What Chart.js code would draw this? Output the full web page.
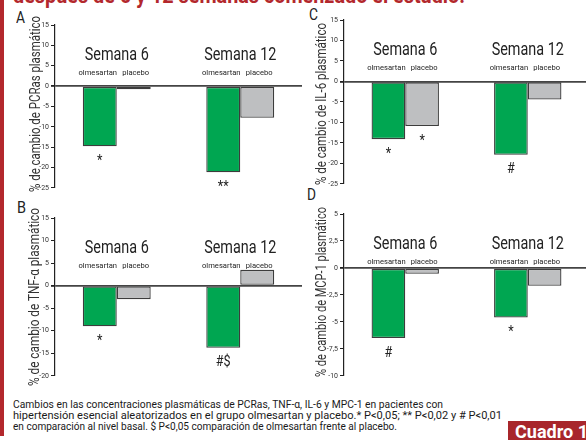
<!DOCTYPE html>
<html>
<head>
<meta charset="utf-8">
<script src="https://cdn.jsdelivr.net/npm/chart.js@4.4.1/dist/chart.umd.min.js"></script>
<style>
  html, body { margin: 0; padding: 0; background: #fff; overflow: hidden; }
  body { width: 586px; height: 440px; position: relative; font-family: Roboto, "Liberation Sans", sans-serif; }
  canvas { position: absolute; }
  .redbar { position: absolute; left: 0; top: 0; width: 4px; height: 436px; background: #b3282d; }
  .fit { position: absolute; white-space: nowrap; transform-origin: 0 0; }
  .title { left: 13px; top: -17px; color: #b3282d; font-weight: bold; font-size: 22px; }
  .letter { font-size: 17px; font-weight: 400; color: #222; }
  .ytitle { font-size: 14px; color: #333; transform-origin: 50% 50%; }
  .cap { left: 13px; font-size: 11.5px; color: #1a1a1a; }
  .cuadro { position: absolute; left: 508px; top: 421px; width: 90px; height: 22px; background: #a8262b; }
  .cuadro span { position: absolute; left: 7px; top: 0; color: #fff; font-weight: bold; font-size: 19px;
                 line-height: 22px; white-space: nowrap; transform: scaleX(0.95); transform-origin: 0 0; }
</style>
</head>
<body>
<div class="redbar"></div>
<div class="fit title" data-w="452">después de 6 y 12 semanas comenzado el estudio.</div>

<div class="fit letter" data-w="9" style="left:16px;top:7px;">A</div>
<div class="fit letter" data-w="9" style="left:309px;top:4px;">C</div>
<div class="fit letter" data-w="9" style="left:17px;top:197px;">B</div>
<div class="fit letter" data-w="9" style="left:307px;top:184px;">D</div>

<canvas id="chartA" width="276" height="194" style="left:26px;top:0px;"></canvas>
<canvas id="chartC" width="276" height="190" style="left:313px;top:0px;"></canvas>
<canvas id="chartB" width="276" height="186" style="left:26px;top:196px;"></canvas>
<canvas id="chartD" width="276" height="186" style="left:313px;top:196px;"></canvas>

<div class="ytitle rot" data-w="176" data-cx="35" data-cy="104">% de cambio de PCRas plasmático</div>
<div class="ytitle rot" data-w="162" data-cx="321" data-cy="104">% de cambio de IL-6 plasmático</div>
<div class="ytitle rot" data-w="178" data-cx="34" data-cy="297">% de cambio de TNF-α plasmático</div>
<div class="ytitle rot" data-w="170" data-cx="321" data-cy="292">% de cambio de MCP-1 plasmático</div>

<div class="fit cap" data-w="430" style="top:397px;">Cambios en las concentraciones plasmáticas de PCRas, TNF-α, IL-6 y MPC-1 en pacientes con</div>
<div class="fit cap" data-w="489" style="top:408px;">hipertensión esencial aleatorizados en el grupo olmesartan y placebo.* P&lt;0,05; ** P&lt;0,02 y # P&lt;0,01</div>
<div class="fit cap" data-w="384" style="top:419px;">en comparación al nivel basal. $ P&lt;0,05 comparación de olmesartan frente al placebo.</div>
<div class="cuadro"><span>Cuadro 1</span></div>

<script>
// datos
const categories = ['Semana 6', 'Semana 12'];
const seriesNames = ['olmesartan', 'placebo'];

const pcrOlmesartan = [-14.8, -21.2];
const pcrPlacebo = [-0.8, -7.8];
const pcrOlmMarks = ['*', '**'];
const pcrPlaMarks = ['', ''];

const tnfOlmesartan = [-9.0, -13.8];
const tnfPlacebo = [-3.0, 3.5];
const tnfOlmMarks = ['*', '#$'];
const tnfPlaMarks = ['', ''];

const il6Olmesartan = [-14.1, -17.9];
const il6Placebo = [-10.9, -4.4];
const il6OlmMarks = ['*', '#'];
const il6PlaMarks = ['*', ''];

const mcpOlmesartan = [-6.5, -4.6];
const mcpPlacebo = [-0.55, -1.65];
const mcpOlmMarks = ['#', '*'];
const mcpPlaMarks = ['', ''];

const GREEN = '#00a651';
const GREY = '#bebfc1';
const EDGE = '#3c3c3c';
const FONT = 'Roboto, "Liberation Sans", sans-serif';

// texto html comprimido a lo ancho (la fuente original es condensada)
document.querySelectorAll('.fit').forEach(el => {
    const w = el.getBoundingClientRect().width;
    el.style.transform = `scaleX(${el.dataset.w / w})`;
});
document.querySelectorAll('.rot').forEach(el => {
    el.style.position = 'absolute';
    el.style.whiteSpace = 'nowrap';
    const r = el.getBoundingClientRect();
    el.style.left = (el.dataset.cx - r.width / 2) + 'px';
    el.style.top = (el.dataset.cy - r.height / 2) + 'px';
    el.style.transform = `rotate(-90deg) scaleX(${el.dataset.w / r.width})`;
});

function scaledText(ctx, text, x, y, sx) {
    ctx.save();
    ctx.translate(x, y);
    ctx.scale(sx, 1);
    ctx.fillText(text, 0, 0);
    ctx.restore();
}

// etiquetas dentro del area: semana, nombre de serie y significancia
const labelPlugin = {
    id: 'labelPlugin',
    afterDatasetsDraw(chart, args, opts) {
        const ctx = chart.ctx;
        const area = chart.chartArea;
        const x = chart.scales.x;
        ctx.save();
        ctx.fillStyle = '#222';
        ctx.textAlign = 'center';
        ctx.textBaseline = 'middle';
        categories.forEach((c, i) => {
            ctx.font = '18px ' + FONT;
            scaledText(ctx, c, x.getPixelForValue(i), area.top + 30, 0.8);
        });
        chart.data.datasets.forEach((ds, di) => {
            const meta = chart.getDatasetMeta(di);
            meta.data.forEach((bar, i) => {
                ctx.font = '8px ' + FONT;
                scaledText(ctx, ds.label, bar.x + (di === 0 ? -2 : 2), area.top + 48, 0.95);
                const mark = opts.marks[di][i];
                if (mark) {
                    ctx.font = '14px ' + FONT;
                    scaledText(ctx, mark, bar.x, bar.y + 15, 0.9);
                }
            });
        });
        ctx.restore();
    }
};

function makeChart(id, olm, pla, marks, yMin, yMax, step, padTop, axisW) {
    return new Chart(document.getElementById(id), {
        type: 'bar',
        data: {
            labels: categories,
            datasets: [{
                label: seriesNames[0],
                data: olm,
                backgroundColor: GREEN,
                borderColor: EDGE,
                borderWidth: 1.3,
                borderSkipped: false
            }, {
                label: seriesNames[1],
                data: pla,
                backgroundColor: GREY,
                borderColor: EDGE,
                borderWidth: 1.3,
                borderSkipped: false
            }]
        },
        options: {
            responsive: false,
            animation: false,
            layout: { padding: { top: padTop, bottom: 4, right: 0, left: 0 } },
            datasets: { bar: { categoryPercentage: 0.55, barPercentage: 1 } },
            scales: {
                x: { display: false },
                y: {
                    min: yMin,
                    max: yMax,
                    afterFit: s => { s.width = axisW; },
                    border: { display: true, color: '#222', width: 1.2 },
                    grid: {
                        drawOnChartArea: true,
                        color: c => c.tick && c.tick.value === 0 ? '#444' : 'rgba(0,0,0,0)',
                        lineWidth: c => c.tick && c.tick.value === 0 ? 1.8 : 1,
                        tickColor: '#222',
                        tickLength: 4
                    },
                    ticks: {
                        stepSize: step,
                        autoSkip: false,
                        padding: 2,
                        color: '#333',
                        font: { size: 7, family: FONT },
                        callback: v => String(v).replace('.', ',')
                    }
                }
            },
            plugins: {
                legend: { display: false },
                tooltip: { enabled: false },
                labelPlugin: { marks: marks }
            }
        },
        plugins: [labelPlugin]
    });
}

makeChart('chartA', pcrOlmesartan, pcrPlacebo, [pcrOlmMarks, pcrPlaMarks], -25, 15, 5, 25, 29);
makeChart('chartC', il6Olmesartan, il6Placebo, [il6OlmMarks, il6PlaMarks], -25, 15, 5, 20, 31);
makeChart('chartB', tnfOlmesartan, tnfPlacebo, [tnfOlmMarks, tnfPlaMarks], -20, 15, 5, 22, 29);
makeChart('chartD', mcpOlmesartan, mcpPlacebo, [mcpOlmMarks, mcpPlaMarks], -10, 5, 2.5, 18, 31);
</script>
</body>
</html>
